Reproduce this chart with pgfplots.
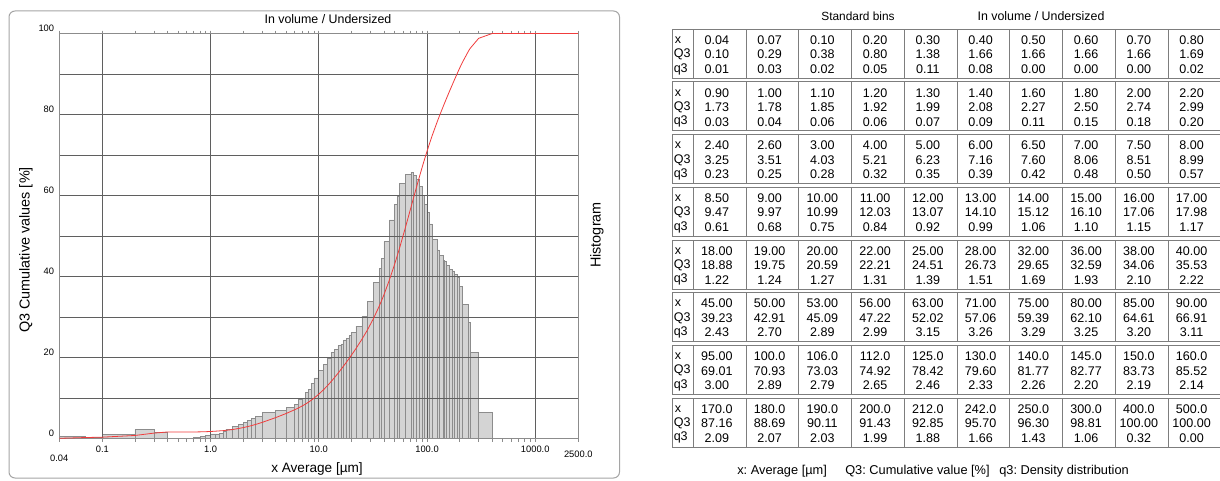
\documentclass[border=0pt]{standalone}
\usepackage{fontspec}
\setmainfont{Liberation Sans}
\usepackage{pgfplots}
\usepackage{pgfplotstable}
\pgfplotsset{compat=1.18}
\definecolor{bargray}{RGB}{212,212,212}
\definecolor{baredge}{RGB}{140,140,140}
\definecolor{gridgray}{RGB}{95,95,95}
\definecolor{framegray}{RGB}{165,165,165}
\definecolor{cumred}{RGB}{240,60,60}
\definecolor{tabline}{RGB}{125,125,125}
\newcommand\fs[1]{\fontsize{#1}{#1}\selectfont}
\frenchspacing

% standard bins: x [um], Q3 cumulative [%], q3 density
\pgfplotstableread{
x Q3 q3
0.04 0.10 0.01
0.07 0.29 0.03
0.10 0.38 0.02
0.20 0.80 0.05
0.30 1.38 0.11
0.40 1.66 0.08
0.50 1.66 0.00
0.60 1.66 0.00
0.70 1.66 0.00
0.80 1.69 0.02
0.90 1.73 0.03
1.00 1.78 0.04
1.10 1.85 0.06
1.20 1.92 0.06
1.30 1.99 0.07
1.40 2.08 0.09
1.60 2.27 0.11
1.80 2.50 0.15
2.00 2.74 0.18
2.20 2.99 0.20
2.40 3.25 0.23
2.60 3.51 0.25
3.00 4.03 0.28
4.00 5.21 0.32
5.00 6.23 0.35
6.00 7.16 0.39
6.50 7.60 0.42
7.00 8.06 0.48
7.50 8.51 0.50
8.00 8.99 0.57
8.50 9.47 0.61
9.00 9.97 0.68
10.00 10.99 0.75
11.00 12.03 0.84
12.00 13.07 0.92
13.00 14.10 0.99
14.00 15.12 1.06
15.00 16.10 1.10
16.00 17.06 1.15
17.00 17.98 1.17
18.00 18.88 1.22
19.00 19.75 1.24
20.00 20.59 1.27
22.00 22.21 1.31
25.00 24.51 1.39
28.00 26.73 1.51
32.00 29.65 1.69
36.00 32.59 1.93
38.00 34.06 2.10
40.00 35.53 2.22
45.00 39.23 2.43
50.00 42.91 2.70
53.00 45.09 2.89
56.00 47.22 2.99
63.00 52.02 3.15
71.00 57.06 3.26
75.00 59.39 3.29
80.00 62.10 3.25
85.00 64.61 3.20
90.00 66.91 3.11
95.00 69.01 3.00
100.0 70.93 2.89
106.0 73.03 2.79
112.0 74.92 2.65
125.0 78.42 2.46
130.0 79.60 2.33
140.0 81.77 2.26
145.0 82.77 2.20
150.0 83.73 2.19
160.0 85.52 2.14
170.0 87.16 2.09
180.0 88.69 2.07
190.0 90.11 2.03
200.0 91.43 1.99
212.0 92.85 1.88
242.0 95.70 1.66
250.0 96.30 1.43
300.0 98.81 1.06
400.0 100.00 0.32
500.0 100.00 0.00
}\psd

\begin{document}
\begin{tikzpicture}[x=0.75pt,y=0.75pt]
\path[use as bounding box] (0,0) rectangle (1220,-481);

% left panel frame
\draw[framegray, line width=0.75pt, rounded corners=4.5pt] (9,-11) rectangle (619.5,-478);

% histogram (q3), bar from previous bin edge to x
\begin{axis}[
  at={(44.475pt,-329.025pt)}, anchor=south west,
  scale only axis, width=389.25pt, height=303.9pt,
  xmode=log, xmin=0.04, xmax=2500, ymin=0, ymax=5,
  hide axis,
]
\addplot[ybar interval, fill=bargray, draw=baredge, line width=0.5pt] coordinates {
(0.04,0.03)(0.07,0.02)(0.10,0.05)(0.20,0.11)(0.30,0.08)(0.40,0.00)(0.50,0.00)(0.60,0.00)(0.70,0.02)(0.80,0.03)
(0.90,0.04)(1.00,0.06)(1.10,0.06)(1.20,0.07)(1.30,0.09)(1.40,0.11)(1.60,0.15)(1.80,0.18)(2.00,0.20)(2.20,0.23)
(2.40,0.25)(2.60,0.28)(3.00,0.32)(4.00,0.35)(5.00,0.39)(6.00,0.42)(6.50,0.48)(7.00,0.50)(7.50,0.57)(8.00,0.61)
(8.50,0.68)(9.00,0.75)(10,0.84)(11,0.92)(12,0.99)(13,1.06)(14,1.10)(15,1.15)(16,1.17)(17,1.22)
(18,1.24)(19,1.27)(20,1.31)(22,1.39)(25,1.51)(28,1.69)(32,1.93)(36,2.10)(38,2.22)(40,2.43)
(45,2.70)(50,2.89)(53,2.99)(56,3.15)(63,3.26)(71,3.29)(75,3.25)(80,3.20)(85,3.11)(90,3.00)
(95,2.89)(100,2.79)(106,2.65)(112,2.46)(125,2.33)(130,2.26)(140,2.20)(145,2.19)(150,2.14)(160,2.09)
(170,2.07)(180,2.03)(190,1.99)(200,1.88)(212,1.66)(242,1.43)(250,1.06)(300,0.32)(400,0.00)(500,0.00)
};
\end{axis}

% cumulative Q3
\begin{axis}[
  at={(44.475pt,-329.025pt)}, anchor=south west,
  scale only axis, width=389.25pt, height=303.9pt,
  xmode=log, xmin=0.04, xmax=2500, ymin=0, ymax=100,
  axis line style={baredge, line width=0.6pt},
  xtick={0.1,1,10,100,1000},
  xticklabels={0.1,1.0,10.0,100.0,1000.0},
  extra x ticks={0.04,2500},
  extra x tick labels={\rule{0pt}{11.5pt}0.04,\rule{0pt}{8.5pt}2500.0},
  extra x tick style={grid=none},
  ytick={0,20,40,60,80,100},
  minor ytick={10,30,50,70,90},
  xmajorgrids, ymajorgrids, yminorgrids,
  major grid style={gridgray, line width=0.6pt},
  minor grid style={gridgray, line width=0.6pt},
  xtick pos=both, tick align=outside,
  major tick length=2.2pt, minor tick length=2.2pt,
  x tick style={baredge, line width=0.5pt},
  y tick style={draw=none},
  ticklabel style={font=\fs{7}},
  /pgf/number format/assume math mode=true,
  yticklabel style={anchor=south east, inner sep=1.5pt},
]
\addplot[cumred, line width=0.6pt] table[x=x, y=Q3] {\psd};
\addplot[cumred, line width=0.6pt] coordinates {(500,100)(2500,100)};
\end{axis}

\node[font=\fs{9.3}] at (328,-19) {In volume / Undersized};
\node[font=\fs{10.2}] at (317,-469) {x Average [µm]};
\node[font=\fs{10.8}, rotate=90] at (26,-250) {Q3 Cumulative values [\%]};
\node[font=\fs{10.8}, rotate=90] at (597,-235) {Histogram};

% table of standard bins
\node[font=\fs{8.9}] at (858,-16) {Standard bins};
\node[font=\fs{9.3}] at (1041,-16) {In volume / Undersized};
\foreach \b in {0,...,7} {
  \pgfmathsetmacro\T{29.3+52.7*\b}
  \draw[tabline, line width=0.75pt] (672.3,-\T) rectangle (1222,-\T-49);
  \foreach \k in {0,...,9} {
    \draw[tabline, line width=0.75pt] (693.3+52.75*\k,-\T) -- (693.3+52.75*\k,-\T-49);
  }
  \node[font=\fs{9.4}, anchor=west, inner sep=0pt] at (674.5,-\T-10.7) {x};
  \node[font=\fs{9.4}, anchor=west, inner sep=0pt] at (673.5,-\T-25.2) {Q3};
  \node[font=\fs{9.4}, anchor=west, inner sep=0pt] at (673.5,-\T-39.7) {q3};
  \foreach \k in {0,...,9} {
    \pgfmathtruncatemacro\i{10*\b+\k}
    \pgfplotstablegetelem{\i}{x}\of\psd \let\vx\pgfplotsretval
    \pgfplotstablegetelem{\i}{Q3}\of\psd \let\vQ\pgfplotsretval
    \pgfplotstablegetelem{\i}{q3}\of\psd \let\vq\pgfplotsretval
    \node[font=\fs{9.4}, inner sep=0pt] at (716.8+52.75*\k,-\T-10.7) {\vx};
    \node[font=\fs{9.4}, inner sep=0pt] at (716.8+52.75*\k,-\T-25.2) {\vQ};
    \node[font=\fs{9.4}, inner sep=0pt] at (716.8+52.75*\k,-\T-39.7) {\vq};
  }
}
\node[font=\fs{9.6}, anchor=west, inner sep=0pt] at (737,-470.7) {x: Average [µm]};
\node[font=\fs{9.6}, anchor=west, inner sep=0pt] at (845,-470.7) {Q3: Cumulative value [\%]};
\node[font=\fs{9.6}, anchor=west, inner sep=0pt] at (999,-470.7) {q3: Density distribution};
\end{tikzpicture}
\end{document}
